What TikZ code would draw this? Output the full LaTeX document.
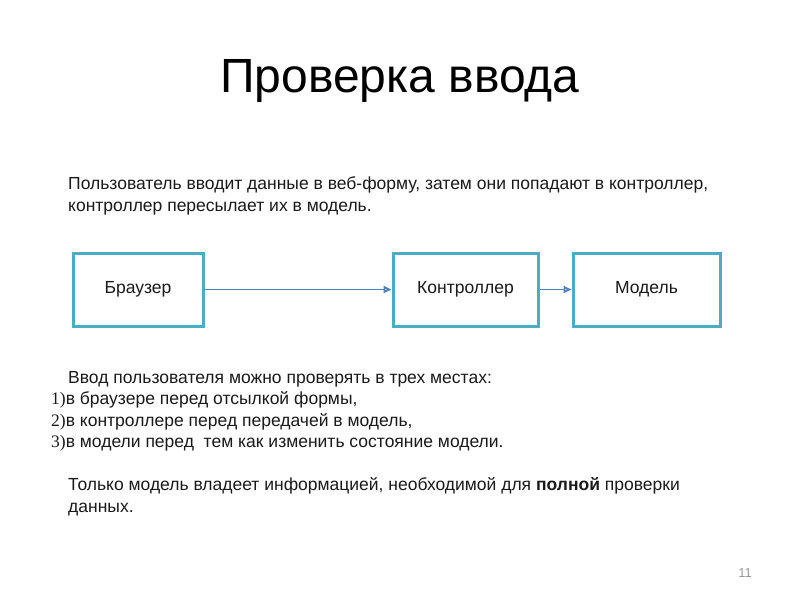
\documentclass[tikz,border=0pt]{standalone}
\usepackage{fontspec}
\setmainfont{Liberation Sans}
\newfontfamily\serifnum{Liberation Serif}
\usetikzlibrary{arrows.meta}
\definecolor{boxc}{HTML}{4BACC6}
\definecolor{arrc}{HTML}{4F81BD}
\definecolor{txt}{HTML}{1A1A1A}
\tikzset{
  blockbox/.style={draw=boxc,line width=3pt,minimum height=73pt,inner sep=0pt,font=\fontsize{17.5}{20}\selectfont,text=txt},
  conn/.style={draw=arrc,line width=1.8pt,-{Triangle[open,length=8pt,width=7pt]}},
  bodytext/.style={anchor=base west,inner sep=0pt,font=\fontsize{17.5}{20}\selectfont,text=txt}
}
\begin{document}
\begin{tikzpicture}[x=1pt,y=-1pt]
\useasboundingbox (0,0) rectangle (800,600);
\fill[white] (0,0) rectangle (800,600);
\node[anchor=base,inner sep=0pt,font=\fontsize{48}{55}\selectfont,text=black] (title) at (400,92) {Проверка ввода};
\node[bodytext] (p1a) at (68,189) {Пользователь вводит данные в веб-форму, затем они попадают в контроллер,};
\node[bodytext] (p1b) at (68,211) {контроллер пересылает их в модель.};
\node[blockbox,minimum width=130pt] (br) at (138,289.5) {Браузер};
\node[blockbox,minimum width=145pt] (ct) at (465.5,289.5) {Контроллер};
\node[blockbox,minimum width=147pt] (md) at (646.5,289.5) {Модель};
\draw[conn] (br.east) -- (ct.west);
\draw[conn] (ct.east) -- (md.west);
\node[bodytext] (p2a) at (68,383) {Ввод пользователя можно проверять в трех местах:};
\node[bodytext] (p2b) at (51,404.5) {{\serifnum 1)}в браузере перед отсылкой формы,};
\node[bodytext] (p2c) at (51,426) {{\serifnum 2)}в контроллере перед передачей в модель,};
\node[bodytext] (p2d) at (51,447) {{\serifnum 3)}в модели перед\ \ тем как изменить состояние модели.};
\node[bodytext] (p3a) at (68,490) {Только модель владеет информацией, необходимой для \textbf{полной} проверки};
\node[bodytext] (p3b) at (68,512) {данных.};
\node[anchor=base,inner sep=0pt,font=\fontsize{13}{15}\selectfont,text=gray!80] (pg) at (745,577) {11};
\end{tikzpicture}
\end{document}
